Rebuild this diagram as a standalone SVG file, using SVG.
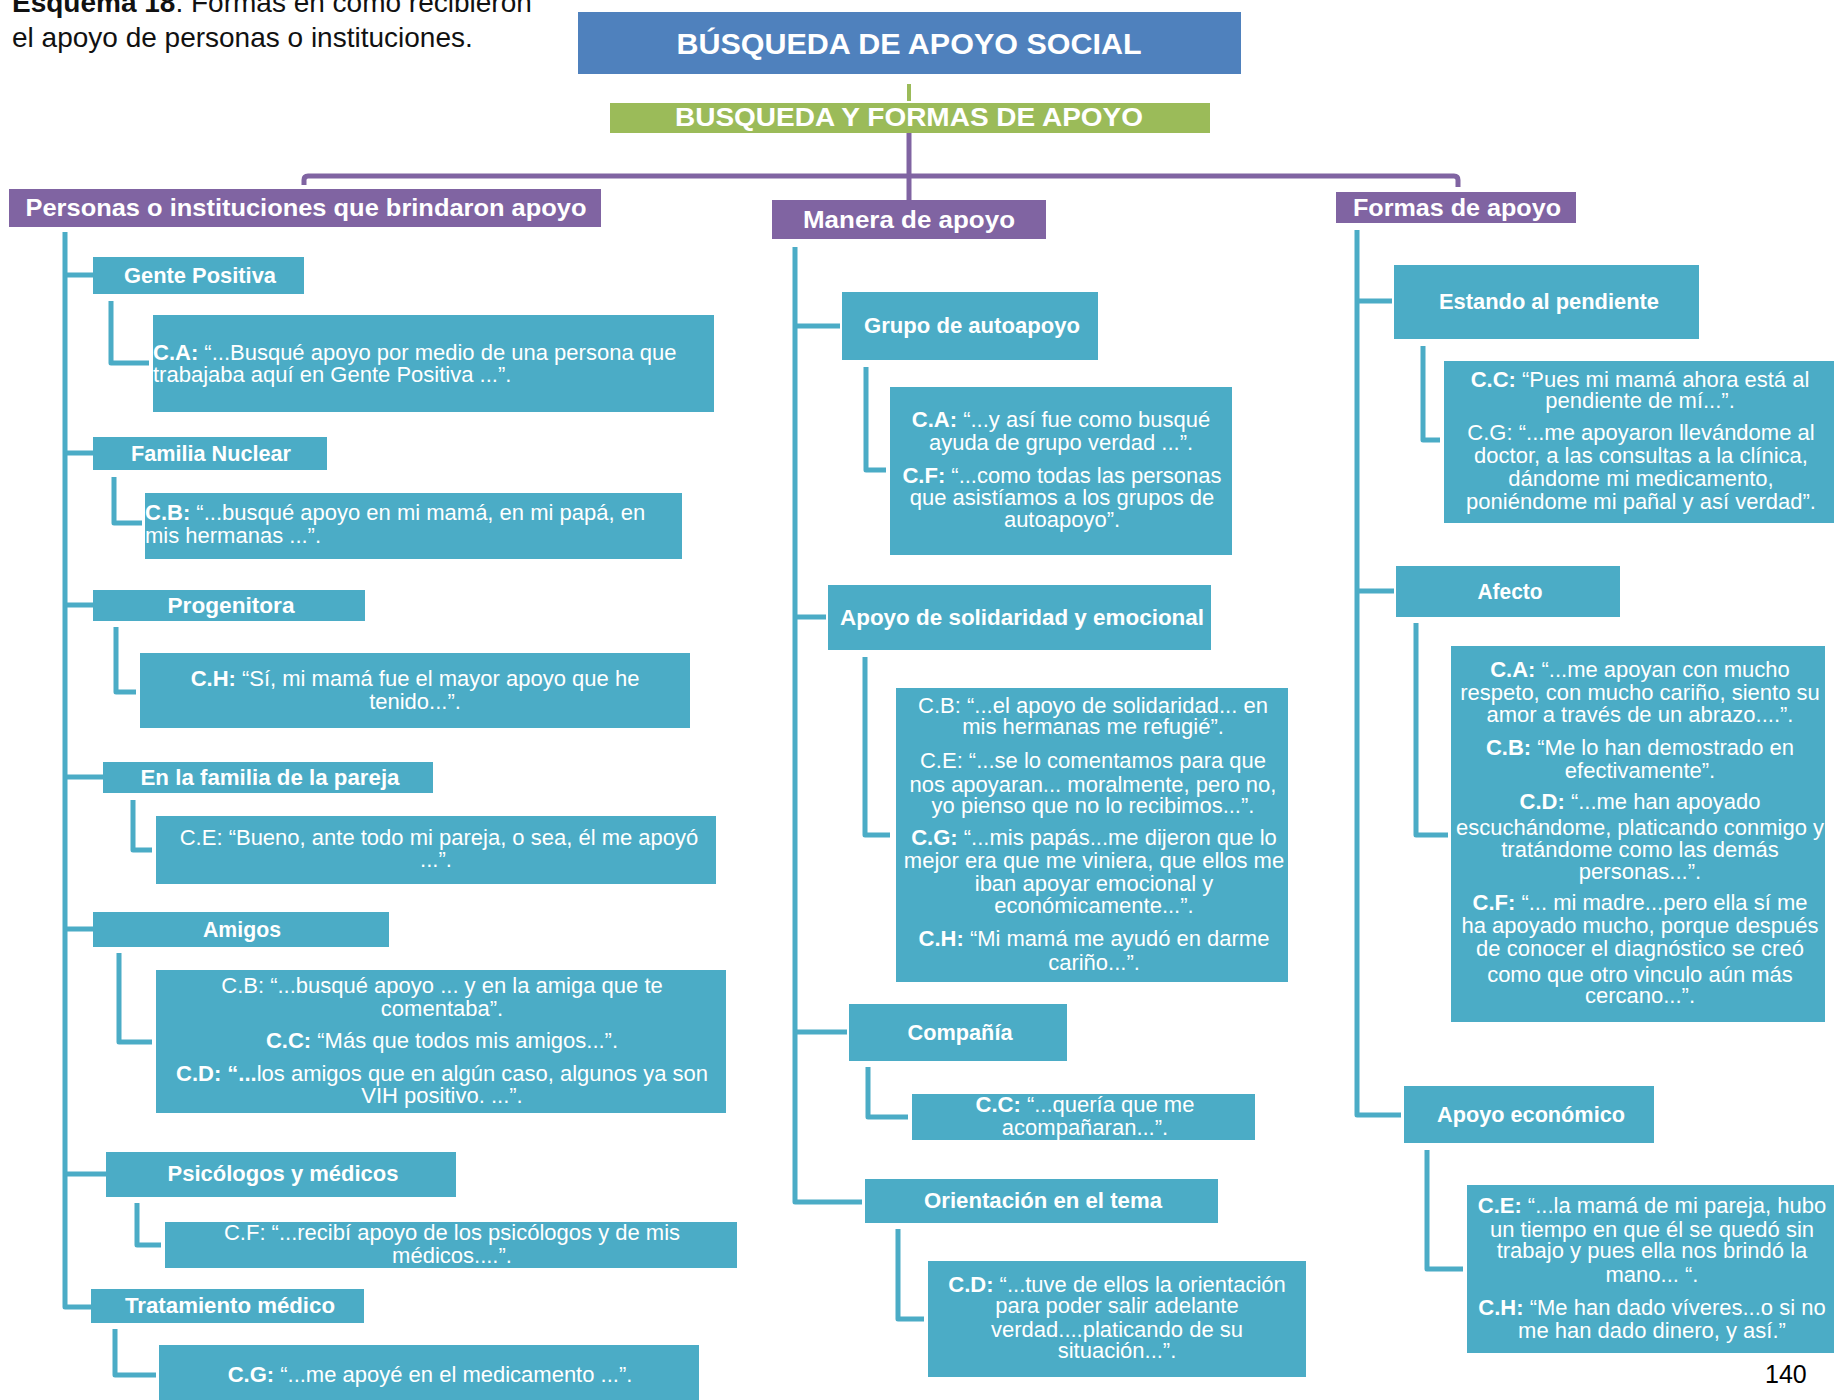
<svg xmlns="http://www.w3.org/2000/svg" width="1839" height="1400" viewBox="0 0 1839 1400">
  <style>
    .teal { fill: #4BACC6; }
    .purple { fill: #8064A2; }
    .conn { fill: none; stroke: #4BACC6; stroke-width: 5; stroke-linejoin: round; stroke-linecap: butt; }
    .pconn { fill: none; stroke: #8064A2; stroke-width: 5; stroke-linejoin: round; }
    .ht { font-family: "Liberation Sans", Arial, sans-serif; font-size: 22px; font-weight: bold; fill: #ffffff; text-anchor: middle; }
    .ph { font-family: "Liberation Sans", Arial, sans-serif; font-size: 24px; font-weight: bold; fill: #ffffff; text-anchor: middle; }
    .qt { font-family: "Liberation Sans", Arial, sans-serif; font-size: 22px; fill: #ffffff; text-anchor: middle; }
    .ql { font-family: "Liberation Sans", Arial, sans-serif; font-size: 22px; fill: #ffffff; text-anchor: start; }
    .b { font-weight: bold; }
    .cap { font-family: "Liberation Sans", Arial, sans-serif; font-size: 28px; fill: #111111; }
  </style>

  <rect width="1839" height="1400" fill="#ffffff"/>

  <!-- caption -->
  <text class="cap" x="12" y="12"><tspan class="b">Esquema 18</tspan>. Formas en como recibieron</text>
  <text class="cap" x="12" y="47">el apoyo de personas o instituciones.</text>

  <!-- connectors -->
  <g id="connectors">
    <line x1="909" y1="84" x2="909" y2="101" stroke="#9BBB59" stroke-width="4"/>
    <path class="pconn" d="M909,133 L909,200"/>
    <path class="pconn" d="M304,185 L304,180 Q304,176 308,176 L1454,176 Q1458,176 1458,180 L1458,187"/>

    <!-- left column -->
    <path class="conn" d="M65,232 L65,1307 L91,1307"/>
    <path class="conn" d="M65,275 H93 M65,453 H93 M65,605 H93 M65,777 H103 M65,929 H93 M65,1174 H106"/>
    <path class="conn" d="M111,301 V363 H149"/>
    <path class="conn" d="M114,477 V523 H142"/>
    <path class="conn" d="M116,627 V692 H136"/>
    <path class="conn" d="M133,800 V850 H152"/>
    <path class="conn" d="M119,953 V1042 H152"/>
    <path class="conn" d="M137,1203 V1245 H161"/>
    <path class="conn" d="M115,1329 V1375 H156"/>

    <!-- middle column -->
    <path class="conn" d="M795,247 L795,1202 L862,1202"/>
    <path class="conn" d="M795,326 H840 M795,617 H826 M795,1032 H847"/>
    <path class="conn" d="M866,367 V470 H886"/>
    <path class="conn" d="M865,657 V835 H890"/>
    <path class="conn" d="M868,1067 V1117 H908"/>
    <path class="conn" d="M898,1229 V1319 H924"/>

    <!-- right column -->
    <path class="conn" d="M1357,230 L1357,1115 L1401,1115"/>
    <path class="conn" d="M1357,301 H1392 M1357,591 H1394"/>
    <path class="conn" d="M1423,346 V440 H1440"/>
    <path class="conn" d="M1416,623 V835 H1448"/>
    <path class="conn" d="M1427,1150 V1269 H1463"/>
  </g>

  <!-- top levels -->
  <g id="titulo">
    <rect x="578" y="12" width="663" height="62" fill="#4F81BD"/>
    <text x="909" y="54" font-family="Liberation Sans, Arial, sans-serif" font-size="29" font-weight="bold" fill="#ffffff" text-anchor="middle" textLength="465" lengthAdjust="spacingAndGlyphs">BÚSQUEDA DE APOYO SOCIAL</text>
  </g>
  <g id="busqueda-formas">
    <rect x="610" y="103" width="600" height="30" fill="#9BBB59"/>
    <text x="909" y="126" font-family="Liberation Sans, Arial, sans-serif" font-size="26" font-weight="bold" fill="#ffffff" text-anchor="middle" textLength="468" lengthAdjust="spacingAndGlyphs">BUSQUEDA Y FORMAS DE APOYO</text>
  </g>

  <g id="personas">
    <rect class="purple" x="9" y="189" width="592" height="38"/>
    <text class="ph" x="306" y="216" textLength="561" lengthAdjust="spacingAndGlyphs">Personas o instituciones que brindaron apoyo</text>
  </g>
  <g id="manera">
    <rect class="purple" x="772" y="200" width="274" height="39"/>
    <text class="ph" x="909" y="228" textLength="212" lengthAdjust="spacingAndGlyphs">Manera de apoyo</text>
  </g>
  <g id="formas">
    <rect class="purple" x="1336" y="192" width="240" height="31"/>
    <text class="ph" x="1457" y="216" textLength="208" lengthAdjust="spacingAndGlyphs">Formas de apoyo</text>
  </g>

  <!-- left column nodes -->
  <g id="gente-positiva">
    <rect class="teal" x="93" y="257" width="211" height="37"/>
    <text class="ht" x="200" y="283" textLength="152" lengthAdjust="spacingAndGlyphs">Gente Positiva</text>
  </g>
  <g id="cita-gente-positiva">
    <rect class="teal" x="153" y="315" width="561" height="97"/>
    <text class="ql" x="153" y="360"><tspan class="b">C.A:</tspan> “...Busqué apoyo por medio de una persona que</text>
    <text class="ql" x="153" y="382">trabajaba aquí en Gente Positiva ...”.</text>
  </g>

  <g id="familia-nuclear">
    <rect class="teal" x="93" y="437" width="234" height="33"/>
    <text class="ht" x="211" y="461" textLength="160" lengthAdjust="spacingAndGlyphs">Familia Nuclear</text>
  </g>
  <g id="cita-familia-nuclear">
    <rect class="teal" x="145" y="493" width="537" height="66"/>
    <text class="ql" x="145" y="520"><tspan class="b">C.B:</tspan> “...busqué apoyo en mi mamá,  en mi papá, en</text>
    <text class="ql" x="145" y="543">mis hermanas ...”.</text>
  </g>

  <g id="progenitora">
    <rect class="teal" x="93" y="590" width="272" height="31"/>
    <text class="ht" x="231" y="613" textLength="127" lengthAdjust="spacingAndGlyphs">Progenitora</text>
  </g>
  <g id="cita-progenitora">
    <rect class="teal" x="140" y="653" width="550" height="75"/>
    <text class="qt" x="415" y="686"><tspan class="b">C.H:</tspan> “Sí, mi mamá fue el mayor apoyo que he</text>
    <text class="qt" x="415" y="709">tenido...”.</text>
  </g>

  <g id="familia-pareja">
    <rect class="teal" x="103" y="762" width="330" height="31"/>
    <text class="ht" x="270" y="785" textLength="259" lengthAdjust="spacingAndGlyphs">En la familia  de la pareja</text>
  </g>
  <g id="cita-familia-pareja">
    <rect class="teal" x="156" y="816" width="560" height="68"/>
    <text class="qt" x="439" y="845">C.E: “Bueno, ante todo mi pareja, o sea, él me apoyó</text>
    <text class="qt" x="436" y="867">...”.</text>
  </g>

  <g id="amigos">
    <rect class="teal" x="93" y="912" width="296" height="35"/>
    <text class="ht" x="242" y="937" textLength="78" lengthAdjust="spacingAndGlyphs">Amigos</text>
  </g>
  <g id="cita-amigos">
    <rect class="teal" x="156" y="970" width="570" height="143"/>
    <text class="qt" x="442" y="993">C.B: “...busqué apoyo ... y en la amiga que te</text>
    <text class="qt" x="442" y="1016">comentaba”.</text>
    <text class="qt" x="442" y="1048"><tspan class="b">C.C:</tspan> “Más que todos mis amigos...”.</text>
    <text class="qt" x="442" y="1081"><tspan class="b">C.D: “...</tspan>los amigos que en algún caso, algunos ya son</text>
    <text class="qt" x="442" y="1103">VIH positivo. ...”.</text>
  </g>

  <g id="psicologos">
    <rect class="teal" x="106" y="1152" width="350" height="45"/>
    <text class="ht" x="283" y="1181" textLength="231" lengthAdjust="spacingAndGlyphs">Psicólogos  y médicos</text>
  </g>
  <g id="cita-psicologos">
    <rect class="teal" x="165" y="1222" width="572" height="46"/>
    <text class="qt" x="452" y="1240">C.F: “...recibí apoyo de los psicólogos y de mis</text>
    <text class="qt" x="452" y="1263">médicos....”.</text>
  </g>

  <g id="tratamiento">
    <rect class="teal" x="91" y="1289" width="273" height="34"/>
    <text class="ht" x="230" y="1313" textLength="210" lengthAdjust="spacingAndGlyphs">Tratamiento médico</text>
  </g>
  <g id="cita-tratamiento">
    <rect class="teal" x="159" y="1345" width="540" height="55"/>
    <text class="qt" x="430" y="1382"><tspan class="b">C.G:</tspan> “...me apoyé en el medicamento ...”.</text>
  </g>

  <!-- middle column nodes -->
  <g id="grupo-autoapoyo">
    <rect class="teal" x="842" y="292" width="256" height="68"/>
    <text class="ht" x="972" y="333" textLength="216" lengthAdjust="spacingAndGlyphs">Grupo de autoapoyo</text>
  </g>
  <g id="cita-grupo-autoapoyo">
    <rect class="teal" x="890" y="387" width="342" height="168"/>
    <text class="qt" x="1061" y="427"><tspan class="b">C.A:</tspan> “...y así fue como busqué</text>
    <text class="qt" x="1061" y="450">ayuda de grupo verdad ...”.</text>
    <text class="qt" x="1062" y="483"><tspan class="b">C.F:</tspan> “...como todas las personas</text>
    <text class="qt" x="1062" y="505">que asistíamos a los grupos de</text>
    <text class="qt" x="1062" y="527">autoapoyo”.</text>
  </g>

  <g id="solidaridad">
    <rect class="teal" x="828" y="585" width="383" height="65"/>
    <text class="ht" x="1022" y="625" textLength="364" lengthAdjust="spacingAndGlyphs">Apoyo de solidaridad   y emocional</text>
  </g>
  <g id="cita-solidaridad">
    <rect class="teal" x="896" y="688" width="392" height="294"/>
    <text class="qt" x="1093" y="713">C.B: “...el apoyo de solidaridad... en</text>
    <text class="qt" x="1093" y="734">mis hermanas me refugié”.</text>
    <text class="qt" x="1093" y="768">C.E: “...se lo comentamos para que</text>
    <text class="qt" x="1093" y="792">nos apoyaran... moralmente,  pero no,</text>
    <text class="qt" x="1093" y="813">yo pienso que no lo recibimos...”.</text>
    <text class="qt" x="1094" y="845"><tspan class="b">C.G:</tspan> “...mis papás...me dijeron que lo</text>
    <text class="qt" x="1094" y="868">mejor era que me viniera, que ellos me</text>
    <text class="qt" x="1094" y="891">iban apoyar emocional y</text>
    <text class="qt" x="1094" y="913">económicamente...”.</text>
    <text class="qt" x="1094" y="946"><tspan class="b">C.H:</tspan> “Mi mamá me ayudó en darme</text>
    <text class="qt" x="1094" y="970">cariño...”.</text>
  </g>

  <g id="compania">
    <rect class="teal" x="849" y="1004" width="218" height="57"/>
    <text class="ht" x="960" y="1040" textLength="105" lengthAdjust="spacingAndGlyphs">Compañía</text>
  </g>
  <g id="cita-compania">
    <rect class="teal" x="912" y="1094" width="343" height="46"/>
    <text class="qt" x="1085" y="1112"><tspan class="b">C.C:</tspan> “...quería que me</text>
    <text class="qt" x="1085" y="1135">acompañaran...”.</text>
  </g>

  <g id="orientacion">
    <rect class="teal" x="865" y="1179" width="353" height="44"/>
    <text class="ht" x="1043" y="1208" textLength="238" lengthAdjust="spacingAndGlyphs">Orientación en el tema</text>
  </g>
  <g id="cita-orientacion">
    <rect class="teal" x="928" y="1261" width="378" height="116"/>
    <text class="qt" x="1117" y="1292"><tspan class="b">C.D:</tspan> “...tuve de ellos la orientación</text>
    <text class="qt" x="1117" y="1313">para poder salir adelante</text>
    <text class="qt" x="1117" y="1337">verdad....platicando de su</text>
    <text class="qt" x="1117" y="1358">situación...”.</text>
  </g>

  <!-- right column nodes -->
  <g id="pendiente">
    <rect class="teal" x="1394" y="265" width="305" height="74"/>
    <text class="ht" x="1549" y="309" textLength="220" lengthAdjust="spacingAndGlyphs">Estando al pendiente</text>
  </g>
  <g id="cita-pendiente">
    <rect class="teal" x="1444" y="361" width="390" height="162"/>
    <text class="qt" x="1640" y="387"><tspan class="b">C.C:</tspan> “Pues mi mamá ahora está al</text>
    <text class="qt" x="1640" y="408">pendiente de mí...”.</text>
    <text class="qt" x="1641" y="440">C.G: “...me apoyaron llevándome al</text>
    <text class="qt" x="1641" y="463">doctor,  a las consultas a la clínica,</text>
    <text class="qt" x="1641" y="486">dándome mi medicamento,</text>
    <text class="qt" x="1641" y="509">poniéndome mi pañal y así verdad”.</text>
  </g>

  <g id="afecto">
    <rect class="teal" x="1396" y="566" width="224" height="51"/>
    <text class="ht" x="1510" y="599" textLength="65" lengthAdjust="spacingAndGlyphs">Afecto</text>
  </g>
  <g id="cita-afecto">
    <rect class="teal" x="1451" y="646" width="374" height="376"/>
    <text class="qt" x="1640" y="677"><tspan class="b">C.A:</tspan> “...me apoyan con mucho</text>
    <text class="qt" x="1640" y="700">respeto, con mucho cariño, siento su</text>
    <text class="qt" x="1640" y="722">amor a través de un abrazo....”.</text>
    <text class="qt" x="1640" y="755"><tspan class="b">C.B:</tspan> “Me lo han demostrado en</text>
    <text class="qt" x="1640" y="778">efectivamente”.</text>
    <text class="qt" x="1640" y="809"><tspan class="b">C.D:</tspan> “...me han apoyado</text>
    <text class="qt" x="1640" y="835">escuchándome, platicando conmigo y</text>
    <text class="qt" x="1640" y="857">tratándome  como las demás</text>
    <text class="qt" x="1640" y="879">personas...”.</text>
    <text class="qt" x="1640" y="910"><tspan class="b">C.F:</tspan> “... mi madre...pero ella sí me</text>
    <text class="qt" x="1640" y="933">ha apoyado mucho, porque después</text>
    <text class="qt" x="1640" y="956">de conocer el diagnóstico se creó</text>
    <text class="qt" x="1640" y="982">como que otro vinculo aún más</text>
    <text class="qt" x="1640" y="1003">cercano...”.</text>
  </g>

  <g id="economico">
    <rect class="teal" x="1404" y="1086" width="250" height="57"/>
    <text class="ht" x="1531" y="1122" textLength="188" lengthAdjust="spacingAndGlyphs">Apoyo económico</text>
  </g>
  <g id="cita-economico">
    <rect class="teal" x="1467" y="1185" width="367" height="168"/>
    <text class="qt" x="1652" y="1213"><tspan class="b">C.E:</tspan> “...la mamá de mi pareja, hubo</text>
    <text class="qt" x="1652" y="1237">un tiempo en que él se quedó sin</text>
    <text class="qt" x="1652" y="1258">trabajo y pues ella nos brindó la</text>
    <text class="qt" x="1652" y="1282">mano... “.</text>
    <text class="qt" x="1652" y="1315"><tspan class="b">C.H:</tspan> “Me han dado víveres...o si no</text>
    <text class="qt" x="1652" y="1338">me han dado dinero, y así.”</text>
  </g>

  <!-- page number -->
  <text x="1765" y="1383" font-family="Liberation Sans, Arial, sans-serif" font-size="25" fill="#000000">140</text>
</svg>
